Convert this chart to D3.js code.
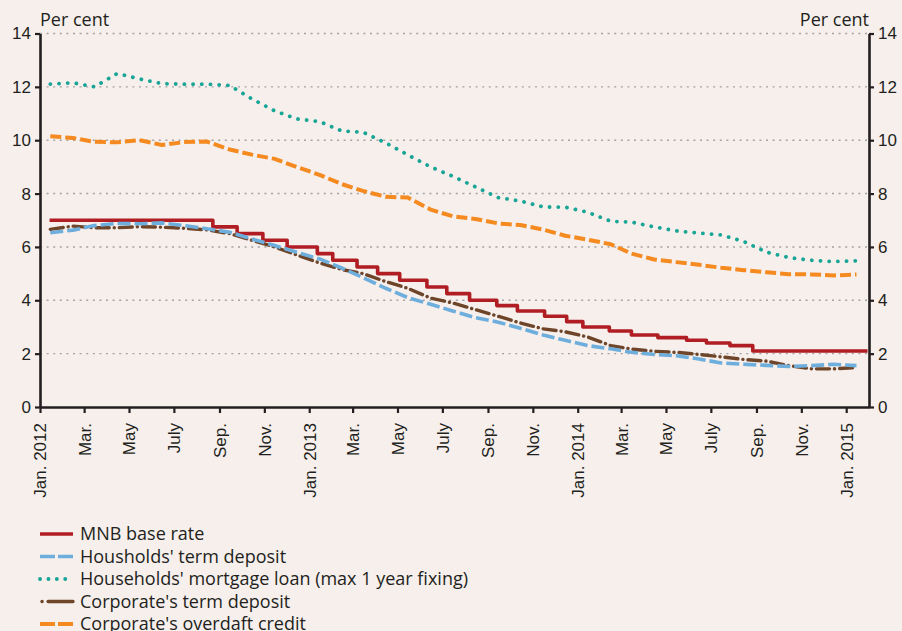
<!DOCTYPE html>
<html>
<head>
<meta charset="utf-8">
<script src="https://d3js.org/d3.v7.min.js"></script>
<style>
  body { margin: 0; background: #f6efec; }
  svg { display: block; font-family: "Open Sans", Lato, sans-serif; }
</style>
</head>
<body>
<svg id="chart" width="902" height="631"></svg>
<script>
// monthly observations, Jan. 2012 - Jan. 2015
var mortgageLoan = [12.1, 12.15, 12.0, 12.5, 12.3, 12.12, 12.1, 12.1, 12.05, 11.55, 11.1, 10.8,
                    10.7, 10.34, 10.3, 9.9, 9.45, 9.0, 8.65, 8.25, 7.85, 7.72, 7.5, 7.49,
                    7.3, 6.96, 6.93, 6.75, 6.6, 6.52, 6.45, 6.2, 5.8, 5.6, 5.5, 5.45,
                    5.48];
var overdraftCredit = [10.15, 10.08, 9.94, 9.92, 10.0, 9.82, 9.93, 9.95, 9.65, 9.46, 9.3, 9.0,
                       8.7, 8.35, 8.1, 7.88, 7.85, 7.4, 7.15, 7.05, 6.88, 6.82, 6.65, 6.42,
                       6.27, 6.1, 5.75, 5.53, 5.43, 5.33, 5.22, 5.13, 5.05, 4.98, 4.97, 4.93,
                       4.97];
var hhDeposit = [6.53, 6.63, 6.8, 6.88, 6.87, 6.9, 6.8, 6.68, 6.55, 6.3, 6.05, 5.8,
                 5.55, 5.2, 4.85, 4.45, 4.1, 3.85, 3.6, 3.35, 3.18, 2.95, 2.7, 2.5,
                 2.3, 2.18, 2.05, 1.97, 1.92, 1.8, 1.65, 1.6, 1.56, 1.52, 1.55, 1.6,
                 1.55];
var corpDeposit = [6.66, 6.78, 6.72, 6.72, 6.76, 6.74, 6.7, 6.64, 6.5, 6.25, 6.0, 5.7,
                   5.4, 5.15, 5.0, 4.7, 4.45, 4.08, 3.9, 3.65, 3.4, 3.15, 2.93, 2.82,
                   2.62, 2.3, 2.17, 2.09, 2.05, 1.97, 1.88, 1.78, 1.72, 1.55, 1.43, 1.43,
                   1.48];

// MNB base rate, dates where the level changes
var baseRateDates = ["2012-01-14", "2012-08-23", "2012-09-25", "2012-10-30", "2012-12-02",
                     "2013-01-12", "2013-02-02", "2013-03-07", "2013-04-04", "2013-05-04",
                     "2013-06-10", "2013-07-07", "2013-08-07", "2013-09-13", "2013-10-11",
                     "2013-11-17", "2013-12-17", "2014-01-08", "2014-02-13", "2014-03-15",
                     "2014-04-20", "2014-05-29", "2014-06-25", "2014-07-27", "2014-08-27",
                     "2015-01-30"];
var baseRate = [7, 6.75, 6.5, 6.25, 6, 5.75, 5.5, 5.25, 5, 4.75, 4.5, 4.25, 4, 3.8, 3.6,
                3.4, 3.2, 3.0, 2.85, 2.7, 2.6, 2.5, 2.4, 2.3, 2.1, 2.1];

var tickLabels = ["Jan. 2012", "Mar.", "May", "July", "Sep.", "Nov.",
                  "Jan. 2013", "Mar.", "May", "July", "Sep.", "Nov.",
                  "Jan. 2014", "Mar.", "May", "July", "Sep.", "Nov.",
                  "Jan. 2015"];

var seriesNames = ["MNB base rate", "Housholds' term deposit",
                   "Households' mortgage loan (max 1 year fixing)",
                   "Corporate's term deposit", "Corporate's overdaft credit"];

var parseDate = d3.timeParse("%Y-%m-%d");
var months = d3.timeMonth.range(new Date(2012, 0, 1), new Date(2015, 1, 1));
var monthPoint = function (m) { return d3.timeDay.offset(m, 14); };

var svg = d3.select("#chart"),
    plotLeft = 40, plotRight = 869, plotTop = 33.5, plotBottom = 407,
    ink = "#231f20";

var x = d3.scaleTime()
    .domain([new Date(2012, 0, 1), new Date(2015, 1, 1)])
    .range([plotLeft, plotRight]);

var y = d3.scaleLinear()
    .domain([0, 14])
    .range([plotBottom, plotTop]);

var styles = [
  { color: "#b01e24", dash: null, width: 3.6, cap: "butt" },
  { color: "#6eaedc", dash: "13,4", width: 3.6, cap: "butt" },
  { color: "#18a596", dash: "0.1,8.6", width: 3.8, cap: "round" },
  { color: "#6e4529", dash: "13,5,0.1,5", width: 3.4, cap: "round" },
  { color: "#f58a20", dash: "11,4", width: 4, cap: "butt" }
];

// gridlines
svg.append("g")
    .selectAll("line")
    .data(y.ticks(7).filter(function (d) { return d > 0; }))
    .enter().append("line")
    .attr("x1", plotLeft).attr("x2", plotRight)
    .attr("y1", function (d) { return y(d); })
    .attr("y2", function (d) { return y(d); })
    .attr("stroke", "#a3a3a3")
    .attr("stroke-width", 1.4)
    .attr("stroke-dasharray", "2,4.6");

var line = d3.line()
    .x(function (d) { return x(d.date); })
    .y(function (d) { return y(d.value); });

function monthly(values) {
  return values.map(function (v, i) { return { date: monthPoint(months[i]), value: v }; });
}

var seriesData = [
  baseRateDates.map(function (d, i) { return { date: parseDate(d), value: baseRate[i] }; }),
  monthly(hhDeposit),
  monthly(mortgageLoan),
  monthly(corpDeposit),
  monthly(overdraftCredit)
];

var drawOrder = [4, 2, 0, 3, 1];
var plotG = svg.append("g");
drawOrder.forEach(function (k) {
  plotG.append("path")
      .datum(seriesData[k])
      .attr("fill", "none")
      .attr("stroke", styles[k].color)
      .attr("stroke-width", styles[k].width)
      .attr("stroke-linecap", styles[k].cap)
      .attr("stroke-linejoin", "round")
      .attr("stroke-dasharray", styles[k].dash)
      .attr("d", k === 0 ? line.curve(d3.curveStepAfter)(seriesData[k]) : line.curve(d3.curveLinear)(seriesData[k]));
});

// axes
var tickMonths = d3.timeMonth.every(2).range(new Date(2012, 0, 1), new Date(2015, 0, 2));

var xAxis = svg.append("g")
    .attr("transform", "translate(0," + plotBottom + ")")
    .call(d3.axisBottom(x).tickValues(tickMonths).tickSize(6).tickSizeOuter(0)
      .tickFormat(function (d, i) { return tickLabels[i]; }));

xAxis.selectAll("text")
    .attr("transform", "rotate(-90)")
    .attr("x", -16).attr("y", 0).attr("dy", "0.35em")
    .style("text-anchor", "end");

var yLeft = svg.append("g")
    .attr("transform", "translate(" + plotLeft + ",0)")
    .call(d3.axisLeft(y).ticks(7).tickSize(5).tickSizeOuter(0).tickPadding(4));

var yRight = svg.append("g")
    .attr("transform", "translate(" + plotRight + ",0)")
    .call(d3.axisRight(y).ticks(7).tickSize(5).tickSizeOuter(0).tickPadding(4));

[xAxis, yLeft, yRight].forEach(function (a) {
  a.select(".domain").attr("stroke", ink).attr("stroke-width", 2.6);
  a.selectAll(".tick line").attr("stroke", ink).attr("stroke-width", 2.2);
  a.selectAll("text").attr("fill", ink).style("font-size", "17px").style("font-family", null);
});

svg.append("text")
    .attr("x", plotLeft).attr("y", 26)
    .attr("fill", ink).style("font-size", "18px")
    .text("Per cent");

svg.append("text")
    .attr("x", plotRight).attr("y", 26)
    .attr("text-anchor", "end")
    .attr("fill", ink).style("font-size", "18px")
    .text("Per cent");

// legend
var legend = svg.append("g")
    .selectAll("g")
    .data(seriesNames)
    .enter().append("g")
    .attr("transform", function (d, i) { return "translate(40," + (534 + i * 22.5) + ")"; });

legend.append("path")
    .attr("d", function (d, i) {
      return i === 3 ? "M2,0H33" : "M0,0H33";
    })
    .attr("fill", "none")
    .attr("stroke", function (d, i) { return styles[i].color; })
    .attr("stroke-width", function (d, i) { return styles[i].width; })
    .attr("stroke-linecap", function (d, i) { return styles[i].cap; })
    .attr("stroke-dasharray", function (d, i) {
      return ["none", "15,3,15", "0.1,8.3", "0.1,6,30", "15,3,15"][i];
    });

legend.append("text")
    .attr("x", 40).attr("dy", "0.35em")
    .attr("fill", ink)
    .style("font-size", "18px")
    .text(function (d) { return d; });
</script>
</body>
</html>
